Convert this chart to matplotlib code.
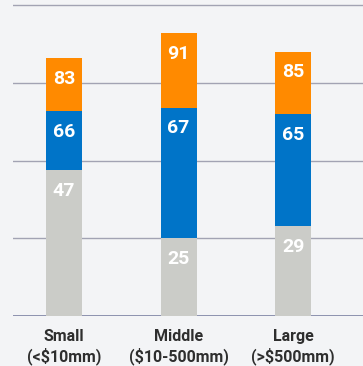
import matplotlib.pyplot as plt

# share of respondents by firm size, each series drawn from zero
categories = ["Small\n(<$10mm)", "Middle\n($10-500mm)", "Large\n(>$500mm)"]
top_vals = [83, 91, 85]
mid_vals = [66, 67, 65]
low_vals = [47, 25, 29]

ORANGE = "#FF8A00"
BLUE = "#0074C8"
GRAY = "#CBCCC8"
BG = "#F3F4F6"

plt.rcParams['font.family'] = ['Roboto', 'DejaVu Sans']

fig = plt.figure(figsize=(3.63, 3.66), dpi=100, facecolor=BG)
# axes box: y=0 at 316px, y=100 at 5.5px from the top
ax = fig.add_axes([13 / 363, 50 / 366, 350 / 363, 311 / 366 * 100.5 / 100])
ax.set_facecolor(BG)

x = list(range(len(categories)))
width = 0.315

for vals, color in [(top_vals, ORANGE), (mid_vals, BLUE), (low_vals, GRAY)]:
    ax.bar(x, vals, width=width, color=color, zorder=3)
    for xi, v in zip(x, vals):
        ax.annotate(str(v), (xi, v), xytext=(0, -15), textcoords="offset points",
                    ha="center", va="center", color="white",
                    fontsize=14, fontweight="bold", zorder=4)

ax.set_ylim(0, 100.5)
ax.set_xlim(-0.445, 2.61)
ax.set_yticks([25, 50, 75, 100])
ax.yaxis.grid(True, color="#A2A3B3", linewidth=1.0, zorder=1)
ax.axhline(0, color="#7C81A2", linewidth=1.2, zorder=2)
ax.tick_params(axis="y", left=False, labelleft=False)
ax.tick_params(axis="x", bottom=False, pad=6)
ax.set_xticks(x)
ax.set_xticklabels(categories, fontsize=11.5, fontweight="bold", color="#2E2E2E",
                   linespacing=1.2)
for s in ax.spines.values():
    s.set_visible(False)

fig.savefig("out.png", dpi=100, facecolor=BG)
